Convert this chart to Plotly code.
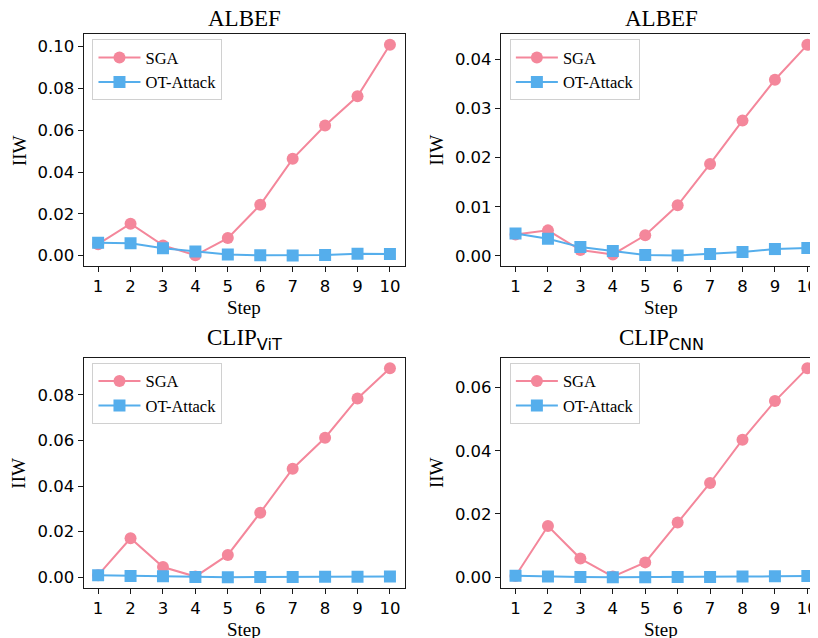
import plotly.graph_objects as go

PAGE_W, PAGE_H = 818, 638
OFF = 8  # browser body margin
W, H = PAGE_W - OFF, PAGE_H - OFF

steps = [1, 2, 3, 4, 5, 6, 7, 8, 9, 10]

# Panel 1: ALBEF (left)
sga_albef_a = [0.0055, 0.0153, 0.0049, 0.0002, 0.0084, 0.0243, 0.0463, 0.0622, 0.0762, 0.1008]
ot_albef_a = [0.0062, 0.0059, 0.0035, 0.0020, 0.0006, 0.0002, 0.0001, 0.0003, 0.0009, 0.0008]

# Panel 2: ALBEF (right)
sga_albef_b = [0.00435, 0.0052, 0.0012, 0.0003, 0.0042, 0.0103, 0.0187, 0.0275, 0.0358, 0.0429]
ot_albef_b = [0.00455, 0.0035, 0.0018, 0.0010, 0.0002, 0.0001, 0.0004, 0.0008, 0.0014, 0.0016]

# Panel 3: CLIP ViT
sga_clip_vit = [0.0009, 0.0171, 0.0045, 0.0003, 0.0098, 0.0283, 0.0476, 0.0612, 0.0784, 0.0917]
ot_clip_vit = [0.0009, 0.0006, 0.0004, 0.0001, 0.0000, 0.0001, 0.0001, 0.0002, 0.0002, 0.0003]

# Panel 4: CLIP CNN
sga_clip_cnn = [0.0004, 0.0162, 0.0059, 0.0002, 0.0047, 0.0173, 0.0298, 0.0435, 0.0557, 0.0661]
ot_clip_cnn = [0.0005, 0.0002, 0.0001, 0.0000, 0.0000, 0.0001, 0.0001, 0.0002, 0.0003, 0.0004]

SUBSTYLE = "font-family:DejaVu Sans;"
titles = [
    "ALBEF",
    "ALBEF",
    "CLIP<sub><span style='" + SUBSTYLE + "'>ViT</span></sub>",
    "CLIP<sub><span style='" + SUBSTYLE + "'>CNN</span></sub>",
]
ytick_steps = [0.02, 0.01, 0.02, 0.02]
series_names = ["SGA", "OT-Attack"]
x_label = "Step"
y_label = "IIW"

SGA_COLOR = "#F4879B"
OT_COLOR = "#55AEEC"
SERIF = "Liberation Serif, Times New Roman, serif"
SANS = "DejaVu Sans, sans-serif"

panels = [
    (sga_albef_a, ot_albef_a),
    (sga_albef_b, ot_albef_b),
    (sga_clip_vit, ot_clip_vit),
    (sga_clip_cnn, ot_clip_cnn),
]

# page-pixel geometry of the plot areas (left, right, top, bottom); right panels extend past the page edge
boxes = [
    (84, 407, 34.3, 266),
    (504, 827, 34.3, 266),
    (84, 407, 357.7, 587.7),
    (504, 827, 357.7, 587.7),
]


def fx(p):
    return (p - OFF) / W


def fy(p):
    return 1 - (p - OFF) / H


fig = go.Figure()
annotations = []

for i, ((sga, ot), (l, r, t, b)) in enumerate(zip(panels, boxes)):
    n = "" if i == 0 else str(i + 1)
    legend_name = "legend" + n
    xa = "x" + n
    ya = "y" + n
    for name, vals, color, sym in [
        (series_names[0], sga, SGA_COLOR, "circle"),
        (series_names[1], ot, OT_COLOR, "square"),
    ]:
        fig.add_trace(go.Scatter(
            x=steps, y=vals, name=name, mode="lines+markers",
            line=dict(color=color, width=2),
            marker=dict(color=color, size=12, symbol=sym),
            xaxis=xa, yaxis=ya, legend=legend_name,
        ))
    xlo, xhi = min(steps), max(steps)
    xpad = 0.05 * (xhi - xlo)
    full_lo, full_hi = xlo - xpad, xhi + xpad
    r_vis = min(r, PAGE_W)
    x_hi_vis = full_lo + (full_hi - full_lo) * (r_vis - l) / (r - l)
    allv = list(sga) + list(ot)
    ylo, yhi = min(allv), max(allv)
    ypad = 0.05 * (yhi - ylo)
    clipped = r > PAGE_W
    axis_common = dict(
        showline=True, linecolor="#1a1a1a", linewidth=1,
        ticks="outside", ticklen=5, tickwidth=1, tickcolor="#1a1a1a",
        showgrid=False, zeroline=False, ticklabeloverflow="allow",
        tickfont=dict(family=SANS, size=16.5, color="#000000"),
    )
    fig.layout["xaxis" + n] = dict(
        axis_common, domain=[fx(l), fx(r_vis)], anchor=ya,
        range=[full_lo, x_hi_vis], tickmode="array", tickvals=steps,
        ticktext=[str(s) for s in steps], mirror=True,
    )
    fig.layout["yaxis" + n] = dict(
        axis_common, domain=[fy(b), fy(t)], anchor=xa,
        range=[ylo - ypad, yhi + ypad], dtick=ytick_steps[i], tick0=0,
        tickformat=".2f", mirror=(not clipped),
    )
    cx = (l + r) / 2
    cy = (t + b) / 2
    annotations.append(dict(
        text=titles[i], x=fx(cx), y=fy(t - 1.5), xref="paper", yref="paper",
        xanchor="center", yanchor="bottom", showarrow=False,
        font=dict(family=SERIF, size=23, color="#000000"),
    ))
    annotations.append(dict(
        text=x_label, x=fx(cx), y=fy(b + 29), xref="paper", yref="paper",
        xanchor="center", yanchor="top", showarrow=False,
        font=dict(family=SERIF, size=19, color="#000000"),
    ))
    annotations.append(dict(
        text=y_label, x=fx(l - 65), y=fy(cy), xref="paper", yref="paper",
        xanchor="center", yanchor="middle", showarrow=False, textangle=-90,
        font=dict(family=SERIF, size=19, color="#000000"),
    ))
    fig.layout[legend_name] = dict(
        x=fx(l + 9), y=fy(t + 5), xanchor="left", yanchor="top",
        bgcolor="rgba(255,255,255,0.8)", bordercolor="#d0d0d0", borderwidth=1,
        font=dict(family=SERIF, size=16.5, color="#000000"),
        itemwidth=42, tracegroupgap=0,
    )

fig.update_layout(
    width=W, height=H, margin=dict(l=0, r=0, t=0, b=0),
    paper_bgcolor="white", plot_bgcolor="white",
    annotations=annotations, showlegend=True,
)

fig.write_html("out.html")
